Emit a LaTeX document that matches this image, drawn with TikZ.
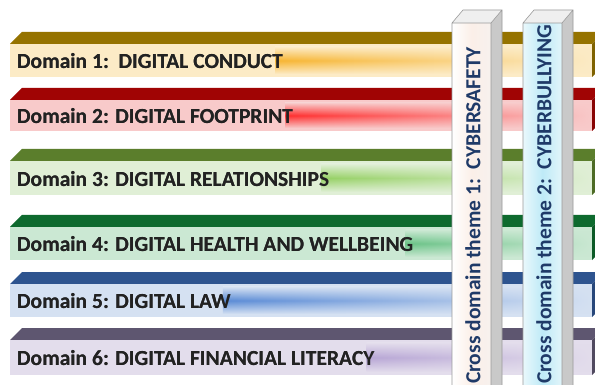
\documentclass[tikz,border=0pt]{standalone}
\usepackage{fontspec}
\setmainfont{Carlito}
\usetikzlibrary{fadings,calc}

\definecolor{textgray}{HTML}{222222}
\definecolor{themeblue}{HTML}{1F3A68}
\definecolor{topA}{HTML}{957300}  \definecolor{faceA}{HTML}{FCEBC6}  \definecolor{glowA}{HTML}{F7B532}
\definecolor{topB}{HTML}{A00404}  \definecolor{faceB}{HTML}{F8CACA}  \definecolor{glowB}{HTML}{FF2E2E}
\definecolor{topC}{HTML}{5B7E2C}  \definecolor{faceC}{HTML}{E0EFD6}  \definecolor{glowC}{HTML}{96D165}
\definecolor{topD}{HTML}{0E6A2E}  \definecolor{faceD}{HTML}{CBE8D3}  \definecolor{glowD}{HTML}{6AC387}
\definecolor{topE}{HTML}{2E548F}  \definecolor{faceE}{HTML}{D5E1F2}  \definecolor{glowE}{HTML}{5A8BD6}
\definecolor{topF}{HTML}{5E5670}  \definecolor{faceF}{HTML}{E3DDEC}  \definecolor{glowF}{HTML}{B7A6D5}
\definecolor{pillargray}{HTML}{9A9A9A}
\definecolor{sidegray}{HTML}{C9C9C9}
\definecolor{capgray}{HTML}{EFEFEF}

\tikzfading[name=glowfade, left color=transparent!0, right color=transparent!100]

\tikzset{
  domainlabel/.style={anchor=west, inner sep=0pt, text=textgray,
    font=\bfseries\fontsize{21.5}{21.5}\selectfont},
  themelabel/.style={rotate=90, anchor=west, inner sep=0pt, text=themeblue,
    font=\bfseries\fontsize{21.5}{21.5}\selectfont},
  pillaredge/.style={draw=pillargray, line width=0.6pt}
}

\begin{document}
\begin{tikzpicture}[x=1pt,y=-1pt]

  \useasboundingbox (0,0) rectangle (595,385);
  \clip (0,0) rectangle (595,385);
  \fill[white] (0,0) rectangle (595,385);

	% six domain bars: top face, front face, glow, side face
	\foreach \n/\yt/\yb/\c/\txt in {1/32/77/A/{Domain 1:\ \ DIGITAL CONDUCT},
	    2/88/131/B/{Domain 2: DIGITAL FOOTPRINT},
	    3/149/195/C/{Domain 3: DIGITAL RELATIONSHIPS},
	    4/215/260/D/{Domain 4: DIGITAL HEALTH AND WELLBEING},
	    5/272/317/E/{Domain 5: DIGITAL LAW},
	    6/328/375/F/{Domain 6: DIGITAL FINANCIAL LITERACY}}{%
      \pgfmathsetmacro\yf{\yt+12}
      \fill[top\c] (10,\yf) -- (22,\yt) -- (604,\yt) -- (592,\yf) -- cycle;
      \fill[face\c] (10,\yf) rectangle (592,\yb);
      \node[domainlabel] (d\n) at (17,{(\yf+\yb)/2+1}) {\txt};
      \shade[top color=face\c, bottom color=face\c, middle color=glow\c, path fading=glowfade]
        ($(d\n.east |- 0,\yf)+(-8,3)$) rectangle (592,\yb-3);
      \node[domainlabel] at (d\n.west) {\txt};
      \fill[top\c!85!black] (592,\yf) -- (604,\yt) -- (604,\yb-12) -- (592,\yb) -- cycle;}

	% two cross domain pillars in front of the bars
	\foreach \n/\x/\l/\m/\r/\txt in {1/452/FFFFFF/FBEFE8/F7F1EE/{Cross domain theme 1:\ \ CYBERSAFETY},
	    2/523/E9F8FC/BEEAF7/E2F5FA/{Cross domain theme 2:\ \ CYBERBULLYING}}{%
      \definecolor{pl}{HTML}{\l}\definecolor{pm}{HTML}{\m}\definecolor{pr}{HTML}{\r}
      \shade[left color=pl, right color=pr, middle color=pm] (\x,23) rectangle (\x+39,392);
      \fill[sidegray] (\x+39,23) -- (\x+50,10) -- (\x+50,392) -- (\x+39,392) -- cycle;
      \fill[capgray] (\x,23) -- (\x+11,10) -- (\x+50,10) -- (\x+39,23) -- cycle;
      \draw[pillaredge] (\x,392) -- (\x,23) -- (\x+11,10) -- (\x+50,10) -- (\x+50,392)
        (\x+39,392) -- (\x+39,23) -- (\x+50,10) (\x,23) -- (\x+39,23);
      \node[themelabel] (t\n) at (\x+21,384) {\txt};}

\end{tikzpicture}
\end{document}
